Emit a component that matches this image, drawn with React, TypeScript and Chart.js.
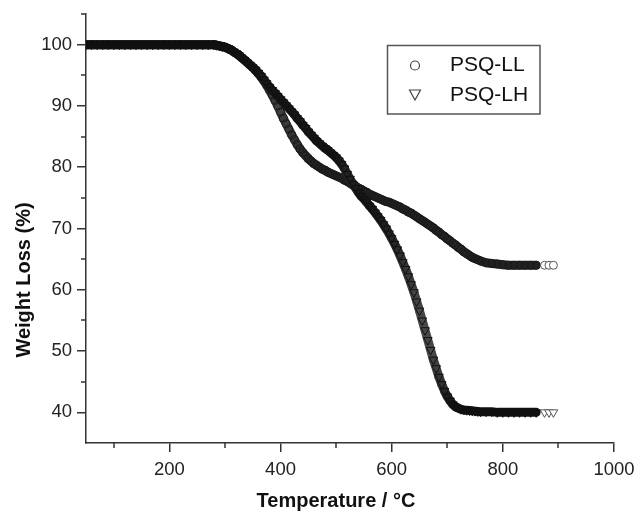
import React, { useEffect, useRef } from "react";
import { Chart, registerables } from "chart.js";

Chart.register(...registerables);

// Temperature (°C) sampling points
const temperatures = [
  50, 60, 70, 80, 90, 100, 110, 120, 130, 140, 150, 160, 170, 180, 190, 200, 210, 220, 230, 240, 250, 260, 270,
  280, 285, 290, 295, 300, 305, 310, 315, 320, 325,
  330, 335, 340, 345, 350, 355, 360, 365, 370, 375,
  380, 385, 390, 395, 400, 405, 410, 415, 420, 425,
  430, 435, 440, 445, 450, 455, 460, 465, 470, 475,
  480, 485, 490, 495, 500, 505, 510, 515, 520, 525,
  530, 535, 540, 545, 550, 555, 560, 565, 570, 575,
  580, 585, 590, 595, 600, 605, 610, 615, 620, 625,
  630, 635, 640, 645, 650, 655, 660, 665, 670, 675,
  680, 685, 690, 695, 700, 705, 710, 715, 720, 725,
  730, 735, 740, 745, 750, 755, 760,
  770, 780, 790, 800, 810, 820, 830, 840, 850, 860,
  875, 883, 891,
];

// PSQ-LL weight (%)
const psqLL = [
  100, 100, 100, 100, 100, 100, 100, 100, 100, 100, 100, 100, 100, 100, 100, 100, 100, 100, 100, 100, 100, 100, 100,
  100.0, 99.9, 99.8, 99.7, 99.6, 99.4, 99.2, 98.9, 98.6, 98.3,
  97.9, 97.5, 97.1, 96.7, 96.3, 95.8, 95.3, 94.7, 94.1, 93.4,
  92.6, 91.8, 90.9, 90.0, 89.0, 88.0, 87.1, 86.2, 85.3, 84.5,
  83.7, 83.0, 82.4, 81.9, 81.4, 81.0, 80.6, 80.3, 80.0, 79.7,
  79.5, 79.2, 79.0, 78.8, 78.6, 78.4, 78.2, 77.9, 77.7, 77.4,
  77.1, 76.9, 76.6, 76.4, 76.1, 75.9, 75.6, 75.4, 75.2, 75.0,
  74.8, 74.6, 74.4, 74.3, 74.1, 73.9, 73.7, 73.5, 73.2, 73.0,
  72.7, 72.5, 72.2, 71.9, 71.6, 71.3, 71.0, 70.7, 70.4, 70.1,
  69.7, 69.4, 69.0, 68.7, 68.3, 68.0, 67.6, 67.3, 66.9, 66.6,
  66.2, 65.9, 65.6, 65.3, 65.1, 64.9, 64.7,
  64.4, 64.3, 64.2, 64.1, 64.0, 64.0, 64.0, 64.0, 64.0, 64.0,
  64.0, 64.0, 64.0,
];

// PSQ-LH weight (%)
const psqLH = [
  100, 100, 100, 100, 100, 100, 100, 100, 100, 100, 100, 100, 100, 100, 100, 100, 100, 100, 100, 100, 100, 100, 100,
  100.0, 99.9, 99.8, 99.7, 99.6, 99.4, 99.2, 98.9, 98.6, 98.3,
  97.9, 97.5, 97.1, 96.7, 96.3, 95.9, 95.4, 94.9, 94.3, 93.7,
  93.1, 92.6, 92.1, 91.6, 91.1, 90.6, 90.1, 89.6, 89.1, 88.6,
  88.0, 87.5, 86.9, 86.4, 85.8, 85.3, 84.8, 84.3, 83.9, 83.5,
  83.1, 82.8, 82.4, 82.0, 81.6, 81.1, 80.5, 79.8, 78.9, 78.1,
  77.3, 76.6, 75.9, 75.3, 74.8, 74.3, 73.7, 73.2, 72.6, 72.0,
  71.4, 70.7, 70.0, 69.2, 68.4, 67.5, 66.6, 65.6, 64.5, 63.4,
  62.2, 60.9, 59.6, 58.1, 56.6, 55.0, 53.4, 51.8, 50.2, 48.6,
  47.2, 45.8, 44.6, 43.5, 42.6, 41.9, 41.3, 40.9, 40.7, 40.5,
  40.4, 40.35, 40.3, 40.25, 40.2, 40.15, 40.1,
  40.1, 40.1, 40.0, 40.0, 40.0, 40.0, 40.0, 40.0, 40.0, 40.0,
  40.0, 40.0, 40.0,
];

const seriesNames = ["PSQ-LL", "PSQ-LH"];
const xMajorTicks = [200, 400, 600, 800, 1000];
const xMinorTicks = [100, 300, 500, 700, 900];
const yMajorTicks = [40, 50, 60, 70, 80, 90, 100];
const yMinorTicks = [45, 55, 65, 75, 85, 95, 105];
const xTitle = "Temperature / °C";
const yTitle = "Weight Loss (%)";

const FONT = '"Liberation Sans", Arial, Helvetica, sans-serif';
const AXIS = "#333333";
const END_COUNT = 3;

function toPoints(vals: number[]) {
  return temperatures.map((t, i) => ({ x: t, y: vals[i] }));
}

function bandColor(base: number) {
  return (ctx: any) => {
    const n = temperatures.length;
    if (ctx.p0DataIndex >= n - END_COUNT - 1) return "rgba(0,0,0,0)";
    const dT = ctx.p1.parsed.x - ctx.p0.parsed.x;
    const d = (Math.hypot(ctx.p1.x - ctx.p0.x, ctx.p1.y - ctx.p0.y) / dT) * 5;
    const g = Math.round(Math.min(95, base + Math.max(0, d - 3.2) * 8));
    return `rgb(${g},${g},${g})`;
  };
}

const isEnd = (c: any) => c.dataIndex >= temperatures.length - END_COUNT;

const extras = {
  id: "extras",
  afterDraw(chart: any) {
    const { ctx, chartArea: ca, scales } = chart;
    const xs = scales.x;
    const ys = scales.y;
    ctx.save();
    // minor ticks
    ctx.strokeStyle = AXIS;
    ctx.lineWidth = 1.5;
    ctx.beginPath();
    for (const v of xMinorTicks) {
      const px = Math.round(xs.getPixelForValue(v));
      ctx.moveTo(px, ca.bottom);
      ctx.lineTo(px, ca.bottom + 5);
    }
    for (const v of yMinorTicks) {
      const py = Math.round(ys.getPixelForValue(v));
      ctx.moveTo(ca.left - 5, py);
      ctx.lineTo(ca.left, py);
    }
    ctx.stroke();

    // axis titles
    ctx.fillStyle = "#111";
    ctx.font = `bold 20px ${FONT}`;
    ctx.textAlign = "center";
    ctx.textBaseline = "middle";
    ctx.fillText(xTitle, 336, 501);
    ctx.save();
    ctx.translate(24, 280);
    ctx.rotate(-Math.PI / 2);
    ctx.fillText(yTitle, 0, 0);
    ctx.restore();

    // legend box
    ctx.strokeStyle = "#555";
    ctx.lineWidth = 1.5;
    ctx.strokeRect(387.5, 45.5, 152.5, 68.5);
    // circle marker
    ctx.lineWidth = 1.2;
    ctx.strokeStyle = "#444";
    ctx.beginPath();
    ctx.arc(415, 65.5, 4.5, 0, Math.PI * 2);
    ctx.stroke();
    // down triangle marker
    ctx.beginPath();
    ctx.moveTo(409.5, 90);
    ctx.lineTo(420.5, 90);
    ctx.lineTo(415, 100);
    ctx.closePath();
    ctx.stroke();
    // legend text
    ctx.fillStyle = "#111";
    ctx.font = `21px ${FONT}`;
    ctx.textAlign = "left";
    ctx.textBaseline = "middle";
    ctx.fillText(seriesNames[0], 450, 65.5);
    ctx.fillText(seriesNames[1], 450, 95);
    ctx.restore();
  },
};

export default function App() {
  const ref = useRef<HTMLCanvasElement>(null);
  useEffect(() => {
    const canvas = ref.current;
    if (!canvas) return;
    const tickFont = { family: FONT, size: 18.5 };
    const grid = {
      drawOnChartArea: false,
      drawTicks: true,
      tickLength: 9,
      color: AXIS,
      lineWidth: 1.5,
      tickColor: AXIS,
      tickWidth: 1.5,
    };
    const chart = new Chart(canvas, {
      type: "scatter",
      data: {
        datasets: [
          {
            label: seriesNames[0],
            data: toPoints(psqLL),
            showLine: true,
            borderWidth: 9,
            borderColor: "#262626",
            borderCapStyle: "round",
            borderJoinStyle: "round",
            segment: { borderColor: bandColor(34) },
            pointStyle: "circle",
            pointRadius: 4,
            pointBorderWidth: 1,
            pointBorderColor: (c: any) => (isEnd(c) ? "#555" : "#1a1a1a"),
            pointBackgroundColor: (c: any) => (isEnd(c) ? "#fff" : "rgba(0,0,0,0)"),
            clip: 0,
            order: 2,
          } as any,
          {
            label: seriesNames[1],
            data: toPoints(psqLH),
            showLine: true,
            borderWidth: 9,
            borderColor: "#141414",
            borderCapStyle: "round",
            borderJoinStyle: "round",
            segment: { borderColor: bandColor(16) },
            pointStyle: "triangle",
            pointRotation: 180,
            pointRadius: 5,
            pointBorderWidth: 1,
            pointBorderColor: (c: any) => (isEnd(c) ? "#555" : "#111"),
            pointBackgroundColor: (c: any) => (isEnd(c) ? "#fff" : "rgba(0,0,0,0)"),
            clip: 0,
            order: 1,
          } as any,
        ],
      },
      options: {
        responsive: false,
        maintainAspectRatio: false,
        devicePixelRatio: 1,
        animation: false,
        layout: { padding: { left: 0, top: 14, right: 24, bottom: 0 } },
        plugins: {
          legend: { display: false },
          tooltip: { enabled: false },
          title: { display: false },
        },
        events: [],
        scales: {
          x: {
            type: "linear",
            min: 50,
            max: 1000,
            afterBuildTicks: (s: any) => {
              s.ticks = xMajorTicks.map((v) => ({ value: v }));
            },
            afterFit: (s: any) => {
              s.height = 69;
              s.paddingLeft = 0;
              s.paddingRight = 0;
            },
            grid,
            border: { display: true, color: AXIS, width: 1.5 },
            ticks: {
              color: "#222",
              font: tickFont,
              padding: 7,
              maxRotation: 0,
              autoSkip: false,
              callback: (v: any) => String(v),
            },
          },
          y: {
            type: "linear",
            min: 35,
            max: 105,
            afterBuildTicks: (s: any) => {
              s.ticks = yMajorTicks.map((v) => ({ value: v }));
            },
            afterFit: (s: any) => {
              s.width = 86;
              s.paddingTop = 0;
              s.paddingBottom = 0;
            },
            grid,
            border: { display: true, color: AXIS, width: 1.5 },
            ticks: {
              color: "#222",
              font: tickFont,
              padding: 5,
              autoSkip: false,
              callback: (v: any) => String(v),
            },
          },
        },
      } as any,
      plugins: [extras],
    });
    return () => chart.destroy();
  }, []);
  return (
    <div style={{ position: "fixed", left: 0, top: 0, width: 638, height: 512, background: "#fff" }}>
      <canvas ref={ref} width={638} height={512} style={{ display: "block", width: 638, height: 512 }} />
    </div>
  );
}
